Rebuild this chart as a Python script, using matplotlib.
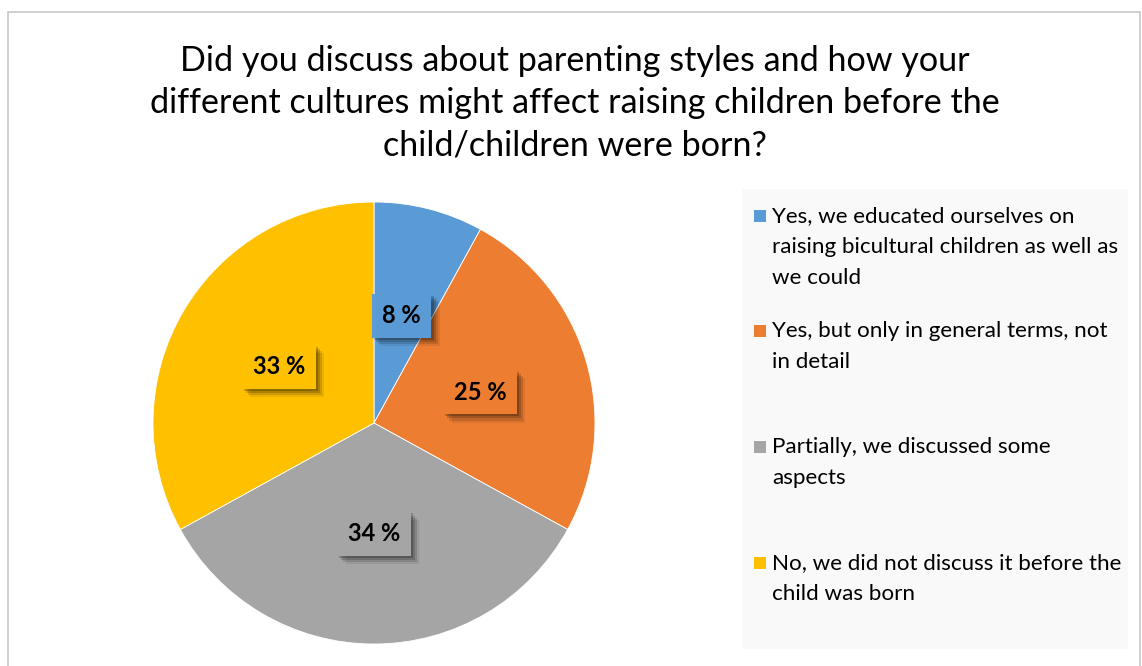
import matplotlib.pyplot as plt
import matplotlib.patheffects as pe
from matplotlib.patches import Rectangle

plt.rcParams['font.family'] = ['Lato', 'DejaVu Sans']

TITLE = ('Did you discuss about parenting styles and how your\n'
         'different cultures might affect raising children before the\n'
         'child/children were born?')
CATEGORIES = [
    'Yes, we educated ourselves on\nraising bicultural children as well as\nwe could',
    'Yes, but only in general terms, not\nin detail',
    'Partially, we discussed some\naspects',
    'No, we did not discuss it before the\nchild was born',
]
VALUES = [8, 25, 34, 33]
COLORS = ['#5B9BD5', '#ED7D31', '#A5A5A5', '#FFC000']

W, H = 1142, 666


def main():
    fig = plt.figure(figsize=(W / 100, H / 100), dpi=100)

    # outer chart frame (bottom edge runs off the image)
    fig.add_artist(Rectangle((8 / W, -0.05), (1140 - 8) / W, 1.05 - 12 / H,
                             transform=fig.transFigure, fill=False,
                             edgecolor='#c8c8c8', linewidth=1.2))

    fig.text(575 / W, 1 - 103 / H, TITLE, ha='center', va='center',
             fontsize=24.6, linespacing=1.40, color='#000000')

    ax = fig.add_axes([(374 - 221) / W, (666 - 644) / H, 442 / W, 442 / H])
    wedges, texts, autotexts = ax.pie(
        VALUES, colors=COLORS, startangle=90, counterclock=False,
        autopct=lambda p: f'{p:.0f} %', pctdistance=0.5,
        wedgeprops=dict(edgecolor='white', linewidth=0.6))
    ax.set_xlim(-1, 1)
    ax.set_ylim(-1, 1)
    ax.set_aspect('equal')

    # soft drop shadow behind each data label box
    shadow = [pe.SimplePatchShadow(offset=(o, -o), shadow_rgbFace='black',
                                   alpha=a)
              for o, a in [(6, 0.08), (4.5, 0.12), (3, 0.16), (1.5, 0.2)]]
    for t, c in zip(autotexts, COLORS):
        t.set_fontsize(17)
        t.set_fontweight('bold')
        t.set_color('black')
        t.set_bbox(dict(boxstyle='square,pad=0.45', facecolor=c,
                        edgecolor='none'))
        t.get_bbox_patch().set_path_effects(shadow + [pe.Normal()])

    # legend panel
    fig.add_artist(Rectangle((742 / W, 1 - 649 / H), (1128 - 742) / W,
                             (649 - 189) / H, transform=fig.transFigure,
                             facecolor='#f9f9f9', edgecolor='none'))
    tops = [205, 320, 436, 552]
    for top, label, c in zip(tops, CATEGORIES, COLORS):
        fig.add_artist(Rectangle((754 / W, 1 - (top + 17) / H), 12 / W,
                                 12 / H, transform=fig.transFigure,
                                 facecolor=c, edgecolor='none'))
        fig.text(772 / W, 1 - (top + 1) / H, label, ha='left', va='top',
                 fontsize=16.1, linespacing=1.68, color='#000000')

    fig.savefig('out.png', dpi=100)
    plt.close(fig)


if __name__ == '__main__':
    main()
